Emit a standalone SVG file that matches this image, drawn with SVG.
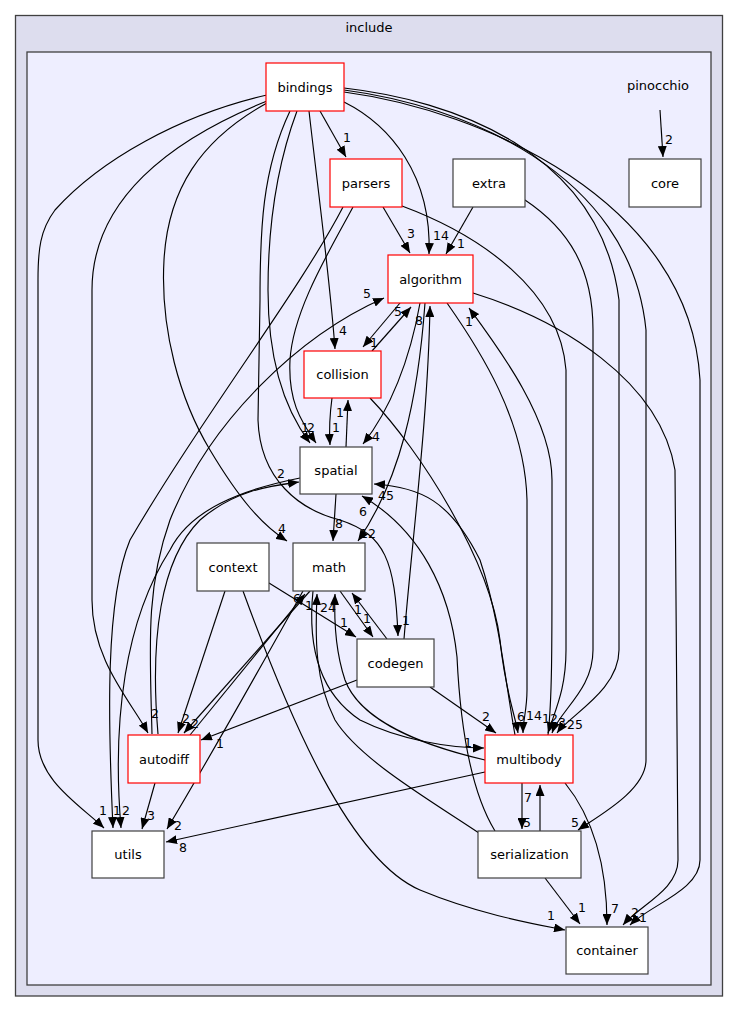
<svg xmlns="http://www.w3.org/2000/svg" width="739" height="1012" viewBox="0 0 739 1012">
<style>
text{font-family:"DejaVu Sans","Liberation Sans",sans-serif;font-size:13px;fill:#000;text-anchor:middle}
.n{fill:#fff;stroke:#404040;stroke-width:1.2}
.r{fill:#fff;stroke:#ff0000;stroke-width:1.2}
.e path{fill:none;stroke:#000;stroke-width:1.15;marker-end:url(#a)}
.l text{font-size:12.5px}
</style>
<defs>
<marker id="a" markerUnits="userSpaceOnUse" markerWidth="11" markerHeight="9" viewBox="0 0 11 9" refX="11" refY="4.5" orient="auto"><path d="M0,0L11,4.5L0,9z" fill="#000"/></marker>
</defs>
<rect width="739" height="1012" fill="#fff"/>
<g id="cluster_include"><rect x="15.5" y="15.5" width="707" height="980.5" fill="#ddddee" stroke="#404040" stroke-width="1.3"/><text x="369" y="32">include</text></g>
<g id="cluster_pinocchio"><rect x="27" y="52" width="684" height="933" fill="#eeeeff" stroke="#404040" stroke-width="1.3"/><text x="658" y="90">pinocchio</text></g>

<g class="e" id="edges">
<path d="M320,111L346,157"/>
<path d="M344,102C390,125 432,175 429,254"/>
<path d="M309,111C318,190 330,280 335,349"/>
<path d="M297,111C275,170 268,230 268,290C268,360 285,410 310,443"/>
<path d="M353,207C330,250 293,310 290,360C288,400 300,420 316,443"/>
<path d="M290,111C262,170 260,230 260,300L258,420C260,480 300,510 340,520C385,535 395,560 398,636"/>
<path d="M267,103C200,140 168,190 164,260C160,330 180,400 210,450C240,500 262,525 287,541"/>
<path d="M267,95C180,115 100,160 55,210C40,230 38,250 38,280L38,740C38,780 80,805 104,828"/>
<path d="M267,101C170,140 92,200 92,290L92,600C92,660 130,700 148,733"/>
<path d="M343,207C300,290 200,420 130,540C105,600 108,720 113,828"/>
<path d="M300,478C240,490 190,510 170,550C125,620 112,720 121,828"/>
<path d="M158,734C150,640 160,560 200,520C235,490 270,486 299,482"/>
<path d="M152,734C150,650 145,590 170,520C210,420 300,335 384,298"/>
<path d="M383,207L410,253"/>
<path d="M473,207L446,254"/>
<path d="M402,206C480,235 560,290 566,370L566,650C566,690 555,710 548,733"/>
<path d="M525,200C570,230 593,270 593,330L593,650C593,690 560,710 552,733"/>
<path d="M344,88C450,100 600,150 619,300L619,650C619,690 570,715 557,733"/>
<path d="M344,90C460,105 630,170 646,330L646,760C646,790 600,815 578,830"/>
<path d="M344,92C480,110 690,200 700,380L700,860C700,890 650,905 630,925"/>
<path d="M473,293C560,320 660,380 675,470L678,860C678,890 640,905 623,925"/>
<path d="M660,110L663,157"/>
<path d="M400,303L363,347"/>
<path d="M372,351L411,307"/>
<path d="M420,303C410,360 390,410 363,444"/>
<path d="M425,303C418,400 400,480 358,541"/>
<path d="M404,639C412,540 428,420 430,306"/>
<path d="M447,303C480,350 525,420 527,500L527,690C527,710 523,720 523,733"/>
<path d="M548,735C552,700 552,650 552,560L552,480C552,420 500,350 469,308"/>
<path d="M370,398C420,450 490,560 500,640C505,690 515,715 518,733"/>
<path d="M332,398C329,420 329,430 330,445"/>
<path d="M346,447L348,400"/>
<path d="M336,494L333,541"/>
<path d="M515,735C505,680 500,620 480,560C450,500 420,487 374,484"/>
<path d="M495,831C470,790 460,720 457,657C450,590 420,530 362,496"/>
<path d="M482,835C430,800 360,760 335,720C315,680 315,640 317,594"/>
<path d="M485,760C420,745 360,720 345,680C335,650 334,620 335,594"/>
<path d="M313,591C308,640 315,690 360,720C400,740 450,748 484,748"/>
<path d="M303,591C270,650 220,740 167,829"/>
<path d="M190,735L305,594"/>
<path d="M310,591L184,733"/>
<path d="M225,591L178,733"/>
<path d="M155,783L142,829"/>
<path d="M485,772L166,842"/>
<path d="M522,783L522,829"/>
<path d="M540,831L540,785"/>
<path d="M565,783C595,820 607,870 607,925"/>
<path d="M545,878L580,924"/>
<path d="M243,591C290,720 350,860 420,890C480,915 540,925 565,930"/>
<path d="M357,680L201,740"/>
<path d="M387,639L352,593"/>
<path d="M340,591L373,637"/>
<path d="M269,583L356,637"/>
<path d="M430,687L496,733"/>
</g>

<g class="l" id="edge_labels">
<text x="347" y="142">1</text>
<text x="441" y="240">14</text>
<text x="343" y="335">4</text>
<text x="305" y="432">1</text>
<text x="311" y="432">2</text>
<text x="406" y="625">1</text>
<text x="282" y="533">4</text>
<text x="103" y="815">1</text>
<text x="155" y="718">2</text>
<text x="117" y="815">1</text>
<text x="126" y="815">2</text>
<text x="281" y="478">2</text>
<text x="367" y="298">5</text>
<text x="411" y="238">3</text>
<text x="461" y="248">1</text>
<text x="550" y="723">12</text>
<text x="562" y="727">3</text>
<text x="575" y="729">25</text>
<text x="575" y="827">5</text>
<text x="643" y="922">1</text>
<text x="635" y="917">2</text>
<text x="669" y="144">2</text>
<text x="374" y="347">1</text>
<text x="398" y="316">5</text>
<text x="376" y="441">4</text>
<text x="368" y="538">12</text>
<text x="419" y="325">8</text>
<text x="534" y="720">14</text>
<text x="469" y="326">1</text>
<text x="521" y="721">6</text>
<text x="336" y="432">1</text>
<text x="340" y="417">1</text>
<text x="339" y="528">8</text>
<text x="386" y="500">45</text>
<text x="363" y="516">6</text>
<text x="309" y="610">1</text>
<text x="328" y="612">24</text>
<text x="468" y="747">1</text>
<text x="178" y="830">2</text>
<text x="297" y="603">6</text>
<text x="195" y="728">2</text>
<text x="186" y="723">2</text>
<text x="151" y="820">3</text>
<text x="183" y="852">8</text>
<text x="527" y="827">5</text>
<text x="528" y="802">7</text>
<text x="615" y="913">7</text>
<text x="582" y="912">1</text>
<text x="551" y="920">1</text>
<text x="220" y="748">1</text>
<text x="358" y="614">1</text>
<text x="367" y="623">1</text>
<text x="344" y="627">1</text>
<text x="486" y="721">2</text>
</g>

<g id="node_bindings"><rect class="r" x="266" y="63" width="78" height="48"/><text x="305" y="91.5">bindings</text></g>
<g id="node_parsers"><rect class="r" x="330" y="159" width="72" height="48"/><text x="366" y="187.5">parsers</text></g>
<g id="node_extra"><rect class="n" x="453" y="159" width="72" height="48"/><text x="489" y="187.5">extra</text></g>
<g id="node_core"><rect class="n" x="629" y="159" width="72" height="48"/><text x="665" y="187.5">core</text></g>
<g id="node_algorithm"><rect class="r" x="388" y="255" width="85" height="48"/><text x="430.5" y="283.5">algorithm</text></g>
<g id="node_collision"><rect class="r" x="304" y="351" width="77" height="47"/><text x="342.5" y="379">collision</text></g>
<g id="node_spatial"><rect class="n" x="300" y="447" width="72" height="47"/><text x="336" y="475">spatial</text></g>
<g id="node_math"><rect class="n" x="293" y="543" width="72" height="48"/><text x="329" y="571.5">math</text></g>
<g id="node_context"><rect class="n" x="197" y="543" width="72" height="48"/><text x="233" y="571.5">context</text></g>
<g id="node_codegen"><rect class="n" x="357" y="639" width="77" height="48"/><text x="395.5" y="667.5">codegen</text></g>
<g id="node_autodiff"><rect class="r" x="128" y="735" width="72" height="48"/><text x="164" y="763.5">autodiff</text></g>
<g id="node_multibody"><rect class="r" x="485" y="735" width="88" height="48"/><text x="529" y="763.5">multibody</text></g>
<g id="node_utils"><rect class="n" x="92" y="831" width="72" height="47"/><text x="128" y="859">utils</text></g>
<g id="node_serialization"><rect class="n" x="478" y="831" width="103" height="47"/><text x="529.5" y="859">serialization</text></g>
<g id="node_container"><rect class="n" x="566" y="927" width="82" height="47"/><text x="607" y="955">container</text></g>
</svg>
